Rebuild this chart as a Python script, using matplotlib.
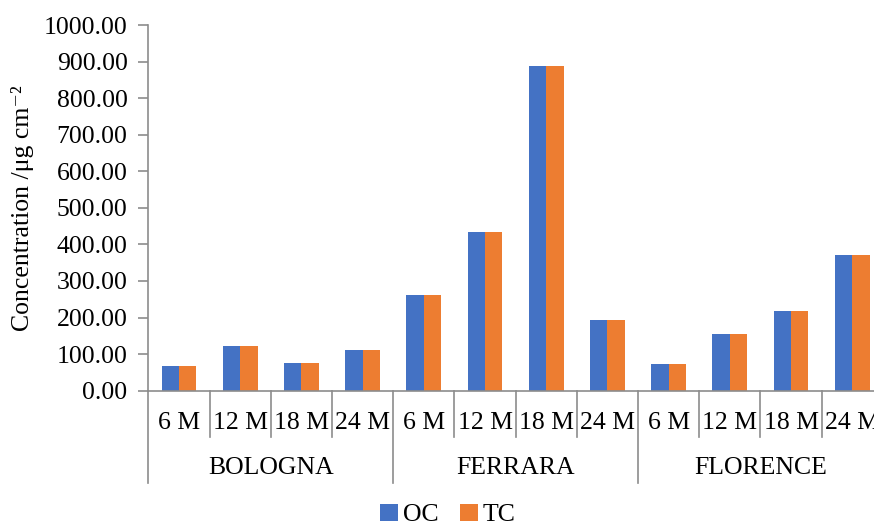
import matplotlib
matplotlib.use("Agg")
import matplotlib.pyplot as plt
import numpy as np

plt.rcParams['font.family'] = ['Liberation Serif', 'DejaVu Serif']

cities = ["BOLOGNA", "FERRARA", "FLORENCE"]
months = ["6 M", "12 M", "18 M", "24 M"]
oc = [67, 121, 77, 111, 261, 435, 889, 193, 72, 154, 217, 372]
tc = [67, 121, 77, 111, 261, 435, 889, 193, 72, 154, 217, 372]

BLUE = "#4472C4"
ORANGE = "#ED7D31"
GRID = "#8C8C8C"
FS = 18.5

W, H = 874, 525
fig = plt.figure(figsize=(W / 100, H / 100), dpi=100)
left, right, top, bottom = 148.4, 882.8, 25.0, 390.7
ax = fig.add_axes([left / W, 1 - bottom / H, (right - left) / W, (bottom - top) / H])

n = len(oc)
x = np.arange(n)
bw = 0.283
ax.bar(x - bw / 2, oc, bw, color=BLUE, label="OC", edgecolor="none")
ax.bar(x + bw / 2, tc, bw, color=ORANGE, label="TC", edgecolor="none")

ax.set_xlim(-0.5, n - 0.5)
ax.set_ylim(0, 1000)
yt = np.arange(0, 1001, 100)
ax.set_yticks(yt)
ax.set_yticklabels([f"{v:.2f}" for v in yt], fontsize=FS)
ax.tick_params(axis='y', length=7, width=1.2, color=GRID, pad=8)
ax.set_xticks([])

for s in ["top", "right"]:
    ax.spines[s].set_visible(False)
for s in ["left", "bottom"]:
    ax.spines[s].set_color(GRID)
    ax.spines[s].set_linewidth(1.2)

ax.set_ylabel("Concentration /μg cm⁻²", fontsize=FS, labelpad=7)

# Two-level category axis: month separators and city separators
tr = ax.get_xaxis_transform()
ax_h = bottom - top
y_month = -(436.7 - bottom) / ax_h
y_group = -(482.7 - bottom) / ax_h
for b in range(n + 1):
    xb = b - 0.5
    yb = y_group if b % 4 == 0 else y_month
    ax.plot([xb, xb], [0, yb], transform=tr, color=GRID, lw=1.2, clip_on=False)

labels_m = [m for _ in cities for m in months]
for i, lab in enumerate(labels_m):
    ax.text(i, -(423 - bottom) / ax_h, lab, transform=tr, ha="center", va="center", fontsize=FS)
for g, city in enumerate(cities):
    ax.text(g * 4 + 1.5, -(468 - bottom) / ax_h, city, transform=tr, ha="center", va="center", fontsize=FS)

fig.legend(loc="center", bbox_to_anchor=(448 / W, 1 - 515 / H), ncol=2, frameon=False,
           fontsize=FS, handlelength=0.7, handleheight=0.7, handletextpad=0.2,
           columnspacing=0.8, borderaxespad=0, borderpad=0)

fig.savefig("out.png", dpi=100)
